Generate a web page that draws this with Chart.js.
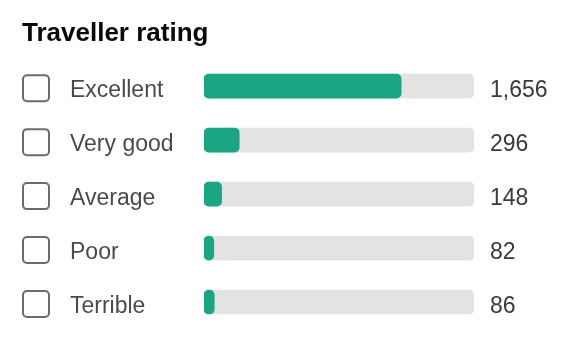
<!DOCTYPE html>
<html>
<head>
<meta charset="utf-8">
<script src="https://cdn.jsdelivr.net/npm/chart.js@4"></script>
<style>
  html, body { margin: 0; padding: 0; background: #fff; }
  #wrap { width: 576px; height: 362px; }
</style>
</head>
<body>
<div id="wrap"><canvas id="ratingChart"></canvas></div>
<script>
const ratings = ['Excellent', 'Very good', 'Average', 'Poor', 'Terrible'];
const reviewCounts = [1656, 296, 148, 82, 86];

const totalReviews = reviewCounts.reduce((a, b) => a + b, 0);
const trackValues = ratings.map(() => totalReviews);

const FONT = '"Liberation Sans", Arial, Helvetica, sans-serif';

// checkboxes, rating names and counts drawn beside each bar
const sideLabels = {
    id: 'sideLabels',
    afterDraw(chart) {
        const ctx = chart.ctx;
        const yScale = chart.scales.y;
        const area = chart.chartArea;
        ctx.save();
        ratings.forEach((name, i) => {
            const y = yScale.getPixelForValue(i);
            // checkbox
            ctx.strokeStyle = '#6b6b6b';
            ctx.lineWidth = 2;
            ctx.beginPath();
            ctx.roundRect(23, y - 11, 26, 26, 4);
            ctx.stroke();
            // rating name
            ctx.font = '23px ' + FONT;
            ctx.fillStyle = '#4a4a4a';
            ctx.textBaseline = 'alphabetic';
            ctx.textAlign = 'left';
            ctx.fillText(name, 70, y + 10.5);
            // count
            ctx.fillStyle = '#3a3a3a';
            ctx.fillText(reviewCounts[i].toLocaleString('en-US'), area.right + 16, y + 11);
        });
        ctx.restore();
    }
};

const ctx = document.getElementById('ratingChart');

new Chart(ctx, {
    type: 'bar',
    data: {
        labels: ratings,
        datasets: [{
            label: 'reviews',
            data: reviewCounts,
            backgroundColor: '#1ba683',
            borderRadius: 5,
            borderSkipped: false,
            barThickness: 24,
            grouped: false,
            order: 0
        }, {
            label: 'track',
            data: trackValues,
            backgroundColor: '#e3e3e3',
            borderRadius: 5,
            borderSkipped: false,
            barThickness: 24,
            grouped: false,
            order: 1
        }]
    },
    options: {
        indexAxis: 'y',
        responsive: true,
        maintainAspectRatio: false,
        animation: false,
        layout: {
            padding: { left: 22, right: 102, top: 0, bottom: 33 }
        },
        scales: {
            x: {
                display: false,
                min: 0,
                max: totalReviews
            },
            y: {
                grid: { display: false },
                border: { display: false },
                ticks: { display: false },
                afterFit(scale) {
                    scale.width = 182;
                }
            }
        },
        plugins: {
            legend: { display: false },
            tooltip: { enabled: false },
            title: {
                display: true,
                text: 'Traveller rating',
                align: 'start',
                color: '#0a0a0a',
                font: { family: FONT, size: 26, weight: 'bold' },
                padding: { top: 18, bottom: 10 }
            }
        }
    },
    plugins: [sideLabels]
});
</script>
</body>
</html>
